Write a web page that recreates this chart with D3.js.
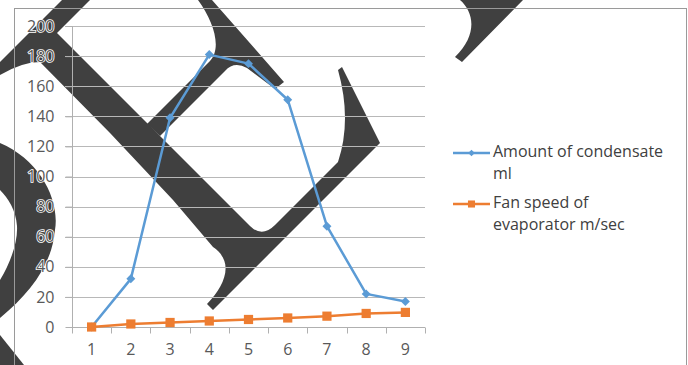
<!DOCTYPE html>
<html>
<head>
<meta charset="utf-8">
<script src="https://cdn.jsdelivr.net/npm/d3@7/dist/d3.min.js"></script>
<style>
  html, body { margin: 0; padding: 0; background: #fff; }
  svg { display: block; }
  text { font-family: "Open Sans", "Liberation Sans", sans-serif; }
</style>
</head>
<body>
<svg id="chart" width="688" height="365"></svg>
<script>
// Run number on the x axis
const categories = [1, 2, 3, 4, 5, 6, 7, 8, 9];
// Amount of condensate (ml)
const condensate = [0, 32, 139, 181, 175, 151, 67, 22, 17];
// Fan speed of evaporator (m/sec)
const fanSpeed = [0, 2, 3, 4, 5, 6, 7.2, 9, 9.7];
// Value axis ticks
const yTicks = [0, 20, 40, 60, 80, 100, 120, 140, 160, 180, 200];
// Legend entries, broken over two lines each
const seriesLabels = [
  ["Amount of condensate", "ml"],
  ["Fan speed of", "evaporator m/sec"]
];
const seriesColors = ["#5b9bd5", "#ed7d31"];

const svg = d3.select("#chart");
const W = 688, H = 365;
const plot = { left: 72, right: 425, top: 26, bottom: 327 };

svg.append("rect").attr("width", W).attr("height", H).attr("fill", "#fff");

// Diagonal overprint shapes in the background
const overprint = [
  "M0,62 L62,0 L90,0 L57,33 L250,226 Q262,238 275,225 L338,162 Q352,120 338,70 L342,67 L380,143 L213,310 L207,304 C225,285 235,262 213,247 L173,200 L110,133 L40,62 Q22,62 0,75 Z",
  "M147,124 L160,136 L225,71 Q234,61 247,68 L275,89 L284,82 L212,0 L198,0 C214,22 222,48 210,61 Z",
  "M460,0 L523,0 L462,62 L455,57 C478,35 474,12 460,0 Z",
  "M0,143 C40,160 60,200 55,230 C52,265 30,293 0,318 L0,280 C10,264 18,242 17,226 C16,210 8,198 0,190 Z",
  "M0,335 L24,365 L0,365 Z"
];
svg.append("g").attr("class", "overprint")
  .selectAll("path").data(overprint).join("path")
  .attr("d", d => d).attr("fill", "#404040");

// Chart frame
svg.append("rect")
  .attr("x", 14.5).attr("y", 8.5)
  .attr("width", 672).attr("height", 400)
  .attr("fill", "none").attr("stroke", "#9a9a9a").attr("stroke-width", 1);

const x = d3.scaleBand().domain(categories).range([plot.left, plot.right]).padding(0);
const y = d3.scaleLinear().domain([0, 200]).range([plot.bottom, plot.top]);

// Horizontal gridlines
svg.append("g").attr("class", "grid")
  .selectAll("line").data(yTicks.filter(v => v !== 0)).join("line")
  .attr("x1", plot.left - 7).attr("x2", plot.right)
  .attr("y1", d => Math.round(y(d)) + 0.5).attr("y2", d => Math.round(y(d)) + 0.5)
  .attr("stroke", "#b8b8b8").attr("stroke-width", 1.2);

// Value axis
const yAxis = svg.append("g")
  .attr("transform", `translate(${plot.left + 0.5},0)`)
  .call(d3.axisLeft(y).tickValues(yTicks).tickSize(7).tickPadding(11).tickFormat(d3.format("d")));
yAxis.select(".domain").attr("stroke", "#b0b0b0").attr("d", `M0,${plot.top}V${plot.bottom}`);
yAxis.selectAll(".tick line").attr("stroke", "#b0b0b0");
yAxis.selectAll(".tick text")
  .attr("font-size", 16).attr("fill", "#595959")
  .attr("stroke", "#fff").attr("stroke-width", 1.6).attr("paint-order", "stroke");

// Category axis: ticks sit between categories
const xAxisG = svg.append("g").attr("transform", `translate(0,${Math.round(plot.bottom) + 0.5})`);
xAxisG.append("line")
  .attr("x1", plot.left).attr("x2", plot.right)
  .attr("stroke", "#b0b0b0").attr("stroke-width", 1.2);
const boundaries = categories.map(c => x(c)).concat([x(categories[categories.length - 1]) + x.bandwidth()]);
xAxisG.selectAll("line.tk").data(boundaries).join("line").attr("class", "tk")
  .attr("x1", d => Math.round(d) + 0.5).attr("x2", d => Math.round(d) + 0.5)
  .attr("y1", 0).attr("y2", 6).attr("stroke", "#b0b0b0");
xAxisG.selectAll("text").data(categories).join("text")
  .attr("x", d => x(d) + x.bandwidth() / 2).attr("y", 27)
  .attr("text-anchor", "middle").attr("font-size", 16).attr("fill", "#595959")
  .text(d => d);

// Series
const series = [condensate, fanSpeed];
const line = d3.line()
  .x((d, i) => x(categories[i]) + x.bandwidth() / 2)
  .y(d => y(d));
const markerDiamond = d3.symbol().type(d3.symbolSquare).size(40);
const markerSquare = d3.symbol().type(d3.symbolSquare).size(85);

series.forEach((vals, s) => {
  const g = svg.append("g");
  g.append("path").datum(vals).attr("d", line)
    .attr("fill", "none").attr("stroke", seriesColors[s]).attr("stroke-width", 2.5)
    .attr("stroke-linejoin", "round");
  g.selectAll("path.m").data(vals).join("path").attr("class", "m")
    .attr("d", s === 0 ? markerDiamond : markerSquare)
    .attr("transform", (d, i) => `translate(${x(categories[i]) + x.bandwidth() / 2},${y(d)})` + (s === 0 ? " rotate(45)" : ""))
    .attr("fill", seriesColors[s]);
});

// Legend
const legend = svg.append("g");
const legendRows = [153, 204];
const legendDiamond = d3.symbol().type(d3.symbolSquare).size(22);
const legendSquare = d3.symbol().type(d3.symbolSquare).size(50);
seriesLabels.forEach((lines, s) => {
  const cy = legendRows[s];
  legend.append("line")
    .attr("x1", 453).attr("x2", 490).attr("y1", cy).attr("y2", cy)
    .attr("stroke", seriesColors[s]).attr("stroke-width", 2.5);
  legend.append("path")
    .attr("d", s === 0 ? legendDiamond : legendSquare)
    .attr("transform", `translate(471.5,${cy})` + (s === 0 ? " rotate(45)" : ""))
    .attr("fill", seriesColors[s]);
  lines.forEach((t, k) => {
    legend.append("text")
      .attr("x", 493).attr("y", cy + 4 + k * 21.5)
      .attr("font-size", 16).attr("fill", "#404040")
      .text(t);
  });
});
</script>
</body>
</html>
